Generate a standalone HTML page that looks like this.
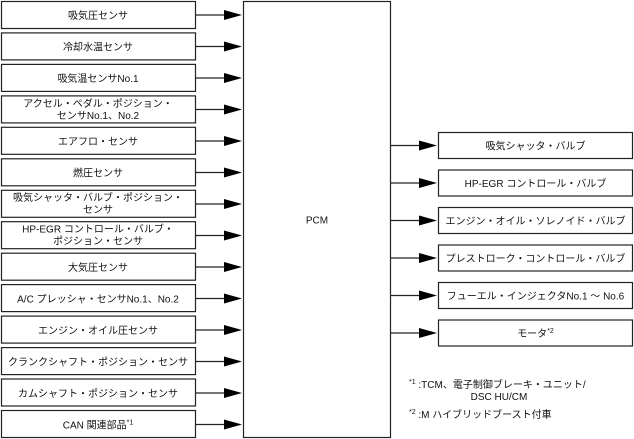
<!DOCTYPE html>
<html><head><meta charset="utf-8"><style>
html,body{margin:0;padding:0;background:#fff;}
svg{display:block;}
text{font-family:"Liberation Sans","Noto Sans CJK JP",sans-serif;font-size:10px;fill:#111;}
</style></head><body>
<svg width="634" height="439" viewBox="0 0 634 439" xmlns="http://www.w3.org/2000/svg">
<g fill="none" stroke="#222" stroke-width="1.2">
<rect x="1.5" y="1.5" width="194" height="27"/>
<rect x="1.5" y="32.9" width="194" height="27"/>
<rect x="1.5" y="64.4" width="194" height="27"/>
<rect x="1.5" y="95.9" width="194" height="27"/>
<rect x="1.5" y="127.3" width="194" height="27"/>
<rect x="1.5" y="158.8" width="194" height="27"/>
<rect x="1.5" y="190.3" width="194" height="27"/>
<rect x="1.5" y="221.7" width="194" height="27"/>
<rect x="1.5" y="253.2" width="194" height="27"/>
<rect x="1.5" y="284.6" width="194" height="27"/>
<rect x="1.5" y="316.1" width="194" height="27"/>
<rect x="1.5" y="347.6" width="194" height="27"/>
<rect x="1.5" y="379.0" width="194" height="27"/>
<rect x="1.5" y="410.5" width="194" height="27"/>
<rect x="243.5" y="1.5" width="147" height="436"/>
<rect x="438.5" y="132.5" width="194" height="26"/>
<rect x="438.5" y="170" width="194" height="26"/>
<rect x="438.5" y="207.5" width="194" height="26"/>
<rect x="438.5" y="245" width="194" height="26"/>
<rect x="438.5" y="282.5" width="194" height="26"/>
<rect x="438.5" y="320" width="194" height="26"/>
</g>
<g stroke="#222" stroke-width="1.2">
<line x1="196" y1="15" x2="226" y2="15"/><line x1="196" y1="46.5" x2="226" y2="46.5"/><line x1="196" y1="78" x2="226" y2="78"/><line x1="196" y1="109.5" x2="226" y2="109.5"/><line x1="196" y1="141" x2="226" y2="141"/><line x1="196" y1="172.5" x2="226" y2="172.5"/><line x1="196" y1="204" x2="226" y2="204"/><line x1="196" y1="235.5" x2="226" y2="235.5"/><line x1="196" y1="267" x2="226" y2="267"/><line x1="196" y1="298.5" x2="226" y2="298.5"/><line x1="196" y1="330" x2="226" y2="330"/><line x1="196" y1="361.5" x2="226" y2="361.5"/><line x1="196" y1="393" x2="226" y2="393"/><line x1="196" y1="424.5" x2="226" y2="424.5"/>
<line x1="391" y1="145.5" x2="420" y2="145.5"/><line x1="391" y1="183" x2="420" y2="183"/><line x1="391" y1="220.5" x2="420" y2="220.5"/><line x1="391" y1="258" x2="420" y2="258"/><line x1="391" y1="295.5" x2="420" y2="295.5"/><line x1="391" y1="333" x2="420" y2="333"/>
</g>
<g fill="#000">
<path d="M224,10 L242,15 L224,20Z"/><path d="M224,41.5 L242,46.5 L224,51.5Z"/><path d="M224,73 L242,78 L224,83Z"/><path d="M224,104.5 L242,109.5 L224,114.5Z"/><path d="M224,136 L242,141 L224,146Z"/><path d="M224,167.5 L242,172.5 L224,177.5Z"/><path d="M224,199 L242,204 L224,209Z"/><path d="M224,230.5 L242,235.5 L224,240.5Z"/><path d="M224,262 L242,267 L224,272Z"/><path d="M224,293.5 L242,298.5 L224,303.5Z"/><path d="M224,325 L242,330 L224,335Z"/><path d="M224,356.5 L242,361.5 L224,366.5Z"/><path d="M224,388 L242,393 L224,398Z"/><path d="M224,419.5 L242,424.5 L224,429.5Z"/>
<path d="M419,140.5 L437,145.5 L419,150.5Z"/><path d="M419,178 L437,183 L419,188Z"/><path d="M419,215.5 L437,220.5 L419,225.5Z"/><path d="M419,253 L437,258 L419,263Z"/><path d="M419,290.5 L437,295.5 L419,300.5Z"/><path d="M419,328 L437,333 L419,338Z"/>
</g>
<g text-anchor="middle">
<text x="98" y="19">吸気圧センサ</text>
<text x="98" y="50.5">冷却水温センサ</text>
<text x="98" y="82">吸気温センサNo.1</text>
<text x="98" y="107">アクセル・ペダル・ポジション・</text>
<text x="98" y="119">センサNo.1、No.2</text>
<text x="98" y="145">エアフロ・センサ</text>
<text x="98" y="176.5">燃圧センサ</text>
<text x="98" y="201">吸気シャッタ・バルブ・ポジション・</text>
<text x="98" y="213">センサ</text>
<text x="98" y="232.5">HP-EGR コントロール・バルブ・</text>
<text x="98" y="244.5">ポジション・センサ</text>
<text x="98" y="271">大気圧センサ</text>
<text x="98" y="302.5">A/C プレッシャ・センサNo.1、No.2</text>
<text x="98" y="334">エンジン・オイル圧センサ</text>
<text x="98" y="365.5">クランクシャフト・ポジション・センサ</text>
<text x="98" y="397">カムシャフト・ポジション・センサ</text>
<text x="98" y="428.5">CAN 関連部品<tspan font-size="7" dy="-4">*1</tspan></text>
<text x="317" y="223.5">PCM</text>
<text x="535.5" y="149.5">吸気シャッタ・バルブ</text>
<text x="535.5" y="187">HP-EGR コントロール・バルブ</text>
<text x="535.5" y="224.5">エンジン・オイル・ソレノイド・バルブ</text>
<text x="535.5" y="262">プレストローク・コントロール・バルブ</text>
<text x="535.5" y="299.5">フューエル・インジェクタNo.1 ～ No.6</text>
<text x="535.5" y="337">モータ<tspan font-size="7" dy="-4">*2</tspan></text>
</g>
<text x="499" y="400" text-anchor="middle">DSC HU/CM</text>
<text x="409" y="388"><tspan font-size="7" dy="-4">*1</tspan><tspan dy="4"> :TCM、電子制御ブレーキ・ユニット/</tspan></text>
<text x="409" y="418"><tspan font-size="7" dy="-4">*2</tspan><tspan dy="4"> :M ハイブリッドブースト付車</tspan></text>
</svg>
</body></html>
